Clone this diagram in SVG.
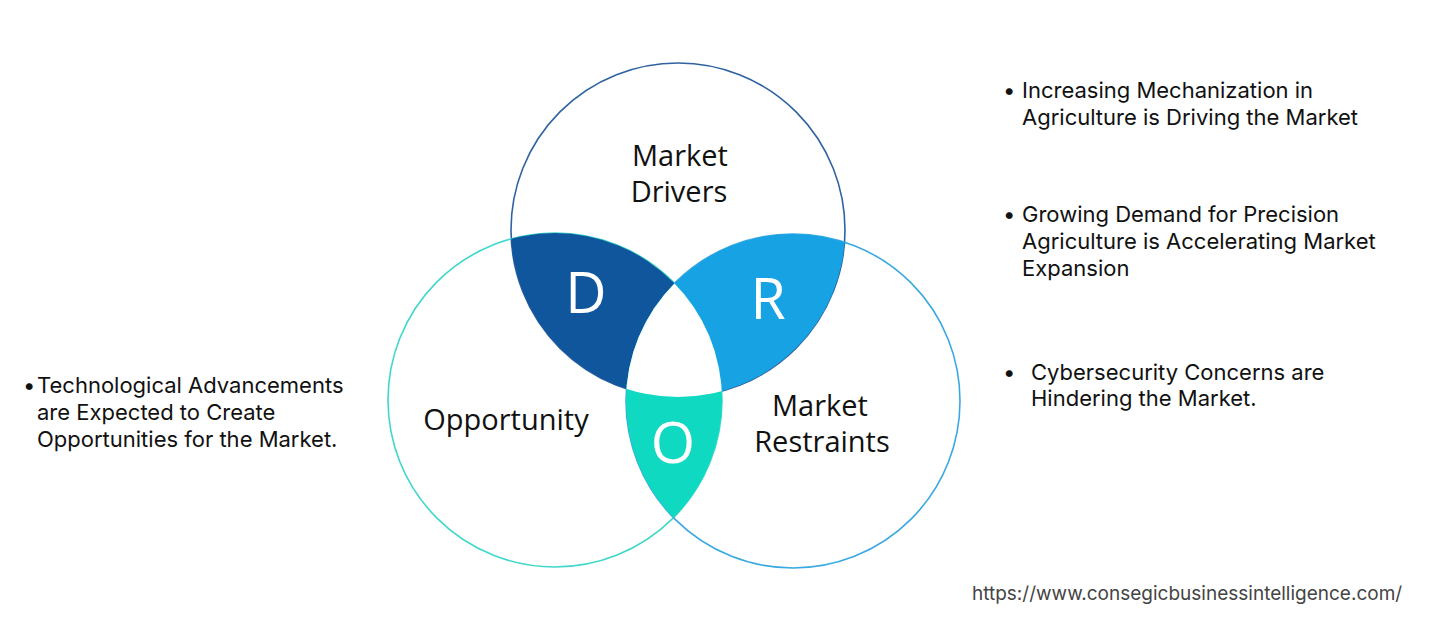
<svg xmlns="http://www.w3.org/2000/svg" width="1453" height="633" viewBox="0 0 1453 633">
<style>
.lbl{font-family:"Open Sans","Liberation Sans",sans-serif;font-size:29px;fill:#111;text-anchor:middle}
.big{font-family:"Open Sans","Liberation Sans",sans-serif;font-size:57px;fill:#fff;text-anchor:middle}
.txt{font-family:Inter,"Liberation Sans",sans-serif;font-size:22px;fill:#111}
.url{font-family:Inter,"Liberation Sans",sans-serif;font-size:19px;fill:#444}
</style>
<defs>
<clipPath id="cT"><circle cx="678" cy="230" r="167"/></clipPath>
<clipPath id="cL"><circle cx="555" cy="400" r="167"/></clipPath>
<clipPath id="cR"><circle cx="793" cy="401" r="167"/></clipPath>
</defs>
<rect width="1453" height="633" fill="#fff"/>
<g id="connectors"></g>
<g id="circles" fill="none" stroke-width="1.6">
<circle id="circle-drivers" cx="678" cy="230" r="167" stroke="#2f62a0"/>
<circle id="circle-opportunity" cx="555" cy="400" r="167" stroke="#3fd8cb"/>
<circle id="circle-restraints" cx="793" cy="401" r="167" stroke="#3aa8e2"/>
</g>
<g id="node-D">
<g clip-path="url(#cL)"><circle cx="678" cy="230" r="167" fill="#0f569d"/></g>
</g>
<g id="node-R">
<g clip-path="url(#cR)"><circle cx="678" cy="230" r="167" fill="#17a2e4"/></g>
</g>
<g id="node-O">
<g clip-path="url(#cR)"><circle cx="555" cy="400" r="167" fill="#0fd9c1"/></g>
</g>
<g id="center">
<g clip-path="url(#cL)"><g clip-path="url(#cR)"><circle cx="678" cy="230" r="167" fill="#fff"/></g></g>
</g>
<g id="letters">
<text class="big" x="586" y="313">D</text>
<text class="big" x="768" y="319">R</text>
<text class="big" x="673" y="463">O</text>
</g>
<g id="labels">
<text class="lbl" x="680" y="166">Market</text>
<text class="lbl" x="679" y="202">Drivers</text>
<text class="lbl" x="506" y="430">Opportunity</text>
<text class="lbl" x="820" y="416">Market</text>
<text class="lbl" x="822" y="452">Restraints</text>
</g>
<g id="right-text" class="txt">
<text x="1003" y="98">•</text>
<text x="1022" y="98">Increasing Mechanization in</text>
<text x="1022" y="125">Agriculture is Driving the Market</text>
<text x="1003" y="222">•</text>
<text x="1022" y="222">Growing Demand for Precision</text>
<text x="1022" y="249">Agriculture is Accelerating Market</text>
<text x="1022" y="276">Expansion</text>
<text x="1003" y="380">•</text>
<text x="1031" y="380">Cybersecurity Concerns are</text>
<text x="1031" y="406">Hindering the Market.</text>
</g>
<g id="left-text" class="txt">
<text x="23" y="393">•</text>
<text x="37" y="393">Technological Advancements</text>
<text x="37" y="420">are Expected to Create</text>
<text x="37" y="447">Opportunities for the Market.</text>
</g>
<text class="url" x="972" y="600">https://www.consegicbusinessintelligence.com/</text>
</svg>
